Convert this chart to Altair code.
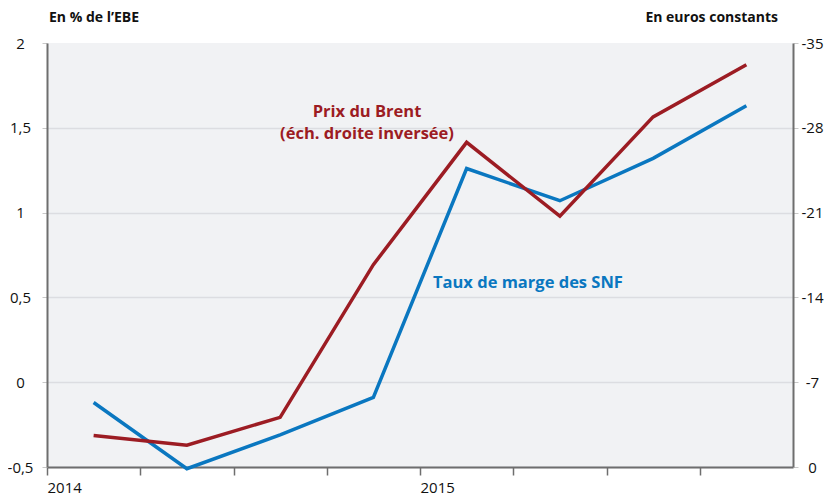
import altair as alt
import pandas as pd

quarters = ["2014T1", "2014T2", "2014T3", "2014T4", "2015T1", "2015T2", "2015T3", "2015T4"]
taux_marge = [-0.12, -0.51, -0.31, -0.09, 1.26, 1.07, 1.32, 1.63]
prix_brent = [-2.6, -1.8, -4.1, -16.7, -26.8, -20.7, -28.9, -33.2]
left_ticks = [-0.5, 0, 0.5, 1, 1.5, 2]
right_ticks = [-35, -28, -21, -14, -7, 0]
quarter_ticks = list(range(len(quarters)))

df = pd.DataFrame({
    "trimestre": quarters,
    "pos": [i + 0.5 for i in range(len(quarters))],
    "taux": taux_marge,
    "brent": prix_brent,
})

FONT = "Open Sans"
BLUE = "#0a77c0"
RED = "#9c1c23"
AXIS = "#6e6e6e"

x = alt.X(
    "pos:Q",
    scale=alt.Scale(domain=[0, len(quarters)], nice=False, zero=False),
    axis=alt.Axis(
        values=quarter_ticks,
        labelExpr="datum.value == 0 ? '2014' : datum.value == 4 ? '2015' : ''",
        grid=False, tickSize=8, tickColor=AXIS, tickWidth=1.5,
        domainColor=AXIS, domainWidth=2,
        labelAlign="left", labelPadding=5, labelFontSize=15,
        labelColor="#111", labelFont=FONT, title=None,
    ),
)

blue = alt.Chart(df).mark_line(color=BLUE, strokeWidth=3.5).encode(
    x=x,
    y=alt.Y(
        "taux:Q",
        scale=alt.Scale(domain=[-0.5, 2], nice=False, zero=False),
        axis=alt.Axis(
            orient="left", values=left_ticks,
            labelExpr="replace(datum.value + '', '.', ',')",
            grid=True, gridColor="#dcdde1", gridWidth=1.5,
            gridOpacity=alt.condition("datum.value == 2", alt.value(0), alt.value(1)),
            tickSize=5, tickColor="#c8c8c8",
            domainColor=AXIS, domainWidth=2,
            labelAlign="center", labelPadding=22, labelFontSize=15,
            labelColor="#111", labelFont=FONT, title=None,
        ),
    ),
)

red = alt.Chart(df).mark_line(color=RED, strokeWidth=3.5).encode(
    x=x,
    y=alt.Y(
        "brent:Q",
        scale=alt.Scale(domain=[-35, 0], nice=False, zero=False, reverse=True),
        axis=alt.Axis(
            orient="right", values=right_ticks,
            labelExpr="datum.value + ''",
            grid=False, tickSize=5, tickColor="#c8c8c8",
            domainColor=AXIS, domainWidth=2,
            labelAlign="center", labelPadding=14, labelFontSize=15,
            labelColor="#111", labelFont=FONT, title=None,
        ),
    ),
)

txt = dict(font=FONT, fontWeight="bold", fontSize=14)
ann = dict(font=FONT, fontWeight="bold", fontSize=16.5)
brent_lbl = alt.Chart(pd.DataFrame({"t": ["Prix du Brent"]})).mark_text(
    color=RED, align="center", baseline="middle", **ann
).encode(text="t:N", x=alt.value(320), y=alt.value(69))
brent_lbl2 = alt.Chart(pd.DataFrame({"t": ["(éch. droite inversée)"]})).mark_text(
    color=RED, align="center", baseline="middle", **ann
).encode(text="t:N", x=alt.value(320), y=alt.value(91))
blue_lbl = alt.Chart(pd.DataFrame({"t": ["Taux de marge des SNF"]})).mark_text(
    color=BLUE, align="left", baseline="middle", **ann
).encode(text="t:N", x=alt.value(386), y=alt.value(240))
left_title = alt.Chart(pd.DataFrame({"t": ["En % de l’EBE"]})).mark_text(
    color="#111", align="left", baseline="middle", **txt
).encode(text="t:N", x=alt.value(2), y=alt.value(-25))
right_title = alt.Chart(pd.DataFrame({"t": ["En euros constants"]})).mark_text(
    color="#111", align="right", baseline="middle", **txt
).encode(text="t:N", x=alt.value(731), y=alt.value(-25))

chart = alt.layer(
    blue, red, brent_lbl, brent_lbl2, blue_lbl, left_title, right_title
).resolve_scale(y="independent").properties(
    width=746, height=424,
    autosize=alt.AutoSizeParams(type="none"),
    padding={"left": 39, "top": 35, "right": 32, "bottom": 32},
    background="white",
).configure_view(fill="#f1f2f4", stroke=None)

chart.save("out.html", embed_options={"renderer": "svg", "actions": False})
